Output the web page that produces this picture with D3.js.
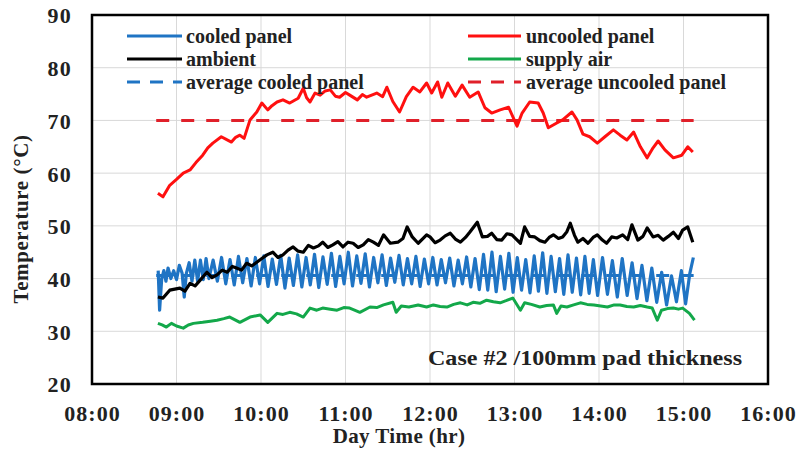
<!DOCTYPE html>
<html><head><meta charset="utf-8">
<script src="https://cdn.jsdelivr.net/npm/d3@7"></script>
<style>
html,body{margin:0;padding:0;background:#fff;}
text{font-family:"Liberation Serif","Times New Roman",serif;font-weight:bold;}
</style></head>
<body><svg id="c" width="796" height="452"></svg>
<script>
// ---- data ----
const xTicks = [8, 9, 10, 11, 12, 13, 14, 15, 16];
const yTicks = [20, 30, 40, 50, 60, 70, 80, 90];

// uncooled panel (time in hours)
const uncooledTime = [8.78,8.84,8.92,9.00,9.08,9.16,9.23,9.31,9.37,9.43,9.53,9.60,9.65,9.70,9.75,9.80,9.87,9.95,10.01,10.08,10.13,10.19,10.26,10.34,10.44,10.50,10.54,10.58,10.64,10.70,10.76,10.82,10.88,10.93,11.00,11.05,11.14,11.20,11.25,11.31,11.37,11.44,11.49,11.56,11.64,11.72,11.80,11.88,11.96,12.02,12.09,12.14,12.21,12.30,12.38,12.47,12.57,12.65,12.73,12.83,12.93,13.03,13.09,13.18,13.28,13.34,13.40,13.50,13.57,13.68,13.74,13.81,13.89,13.98,14.07,14.17,14.25,14.33,14.41,14.49,14.57,14.64,14.70,14.78,14.88,14.98,15.05,15.11];
const uncooledTemp = [56.2,55.5,57.7,58.8,60.0,60.6,62.0,63.4,64.8,65.7,66.9,66.3,65.9,66.8,67.2,66.6,70.1,71.6,73.3,72.0,72.8,73.5,73.9,73.3,74.2,76.1,74.3,73.5,75.2,74.8,75.6,75.8,74.6,74.4,75.3,74.8,73.9,74.9,74.4,74.8,75.2,74.5,76.3,73.6,71.6,74.5,76.3,75.4,77.1,75.2,77.3,74.4,77.1,74.6,76.7,74.4,75.4,72.4,71.4,72.0,72.5,68.9,71.4,73.5,73.3,71.4,68.6,69.5,70.1,71.6,70.1,67.4,66.9,65.7,66.9,68.2,67.2,66.3,67.8,65.0,62.9,64.8,66.1,64.4,62.9,63.4,65.0,64.0];

// ambient (time in hours)
const ambientTime = [8.78,8.84,8.92,9.04,9.10,9.16,9.22,9.28,9.36,9.42,9.48,9.54,9.60,9.66,9.71,9.77,9.83,9.89,9.95,10.01,10.07,10.14,10.20,10.26,10.32,10.38,10.44,10.50,10.56,10.62,10.68,10.73,10.79,10.85,10.91,10.97,11.03,11.09,11.15,11.21,11.27,11.33,11.39,11.45,11.53,11.62,11.68,11.73,11.79,11.86,11.91,11.96,12.00,12.06,12.12,12.18,12.24,12.30,12.36,12.42,12.47,12.56,12.62,12.68,12.73,12.79,12.85,12.91,12.97,13.02,13.07,13.12,13.18,13.24,13.30,13.36,13.41,13.46,13.52,13.57,13.62,13.66,13.71,13.75,13.81,13.87,13.93,13.98,14.04,14.09,14.15,14.21,14.28,14.34,14.39,14.46,14.52,14.57,14.64,14.70,14.76,14.82,14.88,14.94,14.99,15.05,15.11];
const ambientTemp = [36.5,36.3,37.8,38.2,37.6,39.1,38.6,39.7,41.2,40.2,40.7,41.6,41.2,42.3,42.0,41.6,42.9,42.4,43.1,43.8,44.5,45.0,44.0,44.5,45.4,46.0,45.2,45.0,46.3,45.8,46.2,46.9,45.9,46.4,47.0,46.0,46.9,46.7,45.9,46.4,47.4,46.9,46.3,48.3,46.7,46.9,47.6,49.8,47.9,46.7,47.5,48.3,47.9,46.8,47.3,48.1,48.6,47.5,46.9,47.8,48.8,50.7,47.9,48.0,48.6,47.4,47.3,48.5,48.3,47.5,46.7,49.8,48.0,47.9,47.2,46.9,47.8,48.3,47.6,47.9,48.9,50.5,48.2,46.9,47.6,46.7,47.8,48.3,47.3,46.7,47.9,47.7,48.3,47.4,50.2,47.3,48.0,49.6,47.9,48.2,47.3,48.0,48.8,47.6,49.2,49.8,46.9];

// supply air (time in hours)
const supplyTime = [8.78,8.83,8.88,8.94,9.00,9.08,9.14,9.20,9.31,9.40,9.48,9.56,9.63,9.75,9.87,9.99,10.08,10.19,10.26,10.34,10.42,10.50,10.58,10.66,10.73,10.82,10.90,10.98,11.05,11.17,11.29,11.37,11.45,11.56,11.60,11.66,11.75,11.86,11.96,12.04,12.12,12.20,12.28,12.36,12.44,12.51,12.59,12.67,12.75,12.83,12.90,12.98,13.07,13.12,13.20,13.30,13.38,13.46,13.50,13.55,13.62,13.70,13.78,13.86,13.94,14.02,14.10,14.18,14.25,14.33,14.41,14.49,14.57,14.63,14.69,14.74,14.81,14.88,14.94,14.99,15.07,15.13];
const supplyTemp = [31.5,31.2,30.8,31.5,31.0,30.6,31.2,31.5,31.7,31.9,32.1,32.4,32.7,31.7,32.7,33.1,31.7,33.4,33.2,33.6,33.3,32.7,34.4,34.0,34.4,34.2,34.0,34.5,34.4,33.6,34.6,34.5,35.0,35.5,33.6,34.8,34.6,35.0,34.6,35.0,34.7,34.6,35.1,35.4,35.0,35.5,35.3,35.9,35.6,35.4,35.8,36.3,34.0,35.4,35.1,34.6,34.9,35.0,33.4,34.8,34.6,35.0,35.4,35.1,35.0,34.8,34.6,35.0,35.0,34.7,34.6,34.9,34.6,34.4,32.1,34.0,34.3,34.4,34.2,34.4,33.4,32.1];

// cooled panel (time in minutes after 08:00)
const cooledMin = [47,48,49.5,51,52.5,54,56,58,60,62,64,65.5,67,69,71,73,75,77,79,81,
83,86,89,92,95,98,101,104,107,110,113,116,119,122,125,128,131,134,137,140,143,146,149,152,155,158,161,164,167,170,173,176,179,182,185,188,191,194,197,200,203,206,209,212,215,218,221,224,227,230,233,236,239,
242,245,248,251,254,257,260,263,266,269,272,275,278,281,284,287,290,293,296,299,302,305,308,311,314,317,320,323,326,329,332,335,338,341,344,347,350,353,356,359,
362.5,366,369.5,373,376.5,380,383.5,387,390.5,394,397.5,401,404.5,408,411.5,415,418.5,421.5,424.5,427];
const cooledTemp = [41.5,34.0,40.0,41.5,39.5,42.0,40.0,41.5,39.8,42.5,41.0,36.5,41.0,43.0,39.5,43.5,39.5,43.5,39.8,43.8,
40.0,43.5,39.5,44.0,39.0,43.6,38.8,44.2,39.2,43.8,38.6,44.0,39.0,44.3,38.5,43.7,38.9,44.4,38.2,43.9,38.7,44.5,38.4,44.0,38.8,44.6,38.3,44.1,38.9,44.8,38.5,44.2,39.0,45.0,38.6,44.3,39.1,44.7,38.4,44.0,39.2,44.5,38.7,43.9,39.3,44.4,38.8,43.8,39.0,44.2,38.5,43.7,39.0,
44.0,38.8,43.6,39.2,43.9,38.6,43.5,39.0,44.1,38.4,43.8,37.9,44.6,37.8,45.0,37.5,44.2,38.0,44.8,37.4,44.0,37.8,43.6,37.3,44.3,37.6,44.9,37.2,44.2,37.5,43.8,37.0,44.5,37.4,43.9,36.9,44.2,37.2,43.6,36.8,
44.0,37.0,43.4,36.5,43.8,36.8,43.0,36.2,42.5,35.8,42.0,35.5,41.2,35.0,40.5,35.6,41.5,35.2,41.0,44.0];

// averages
const avgTime = [8.76, 15.12];
const avgCooled = 40.6;
const avgUncooled = 70.0;

const legendLabels = ["cooled panel","uncooled panel","ambient","supply air","average cooled panel","average uncooled panel"];
const colors = {blue:"#1f74c4", red:"#ff1010", black:"#000000", green:"#13a84a"};

// ---- layout ----
const L = 92, T = 15, R = 768, B = 384;
const svg = d3.select("#c");
const x = d3.scaleLinear().domain([8, 16]).range([L, R]);
const y = d3.scaleLinear().domain([20, 90]).range([B, T]);

// grid
const g = svg.append("g");
g.selectAll(".vg").data(xTicks.slice(1, -1)).join("line")
  .attr("x1", d => x(d)).attr("x2", d => x(d)).attr("y1", T).attr("y2", B)
  .attr("stroke", "#d9d9d9").attr("stroke-width", 1);
g.selectAll(".hg").data(yTicks.slice(1, -1)).join("line")
  .attr("x1", L).attr("x2", R).attr("y1", d => y(d)).attr("y2", d => y(d))
  .attr("stroke", "#d9d9d9").attr("stroke-width", 1);

// axes
const yAxis = svg.append("g").attr("transform", `translate(${L},0)`)
  .call(d3.axisLeft(y).tickValues(yTicks).tickSize(0).tickPadding(20).tickFormat(d3.format("d")));
yAxis.select(".domain").remove();
yAxis.selectAll("text").attr("font-size", 22).attr("fill", "#222").attr("dy", "0.36em")
  .attr("letter-spacing", 1.2)
  .style("font-family", '"Liberation Serif",serif').style("font-weight", "bold");

const xAxis = svg.append("g").attr("transform", `translate(0,${B})`)
  .call(d3.axisBottom(x).tickValues(xTicks).tickSize(0)
    .tickFormat(d => String(d).padStart(2, "0") + ":00"));
xAxis.select(".domain").remove();
xAxis.selectAll("text").attr("font-size", 22).attr("fill", "#222").attr("y", 37).attr("dy", 0)
  .attr("letter-spacing", 1)
  .style("font-family", '"Liberation Serif",serif').style("font-weight", "bold");

// titles
svg.append("text").attr("x", 399).attr("y", 443).attr("text-anchor", "middle")
  .attr("font-size", 21).attr("letter-spacing", 0.4).attr("fill", "#222").text("Day Time (hr)");
svg.append("text").attr("transform", "translate(28,219) rotate(-90)").attr("text-anchor", "middle")
  .attr("font-size", 21).attr("letter-spacing", 0.6).attr("fill", "#222").text("Temperature (°C)");

// series
const lineH = d3.line().x(d => x(d[0])).y(d => y(d[1]));
const zip = (a, b) => a.map((t, i) => [t, b[i]]);
const plot = svg.append("g");

plot.append("path").datum(avgTime.map(t => [t, avgCooled])).attr("d", lineH)
  .attr("fill", "none").attr("stroke", colors.blue).attr("stroke-width", 3).attr("stroke-dasharray", "13,12");
plot.append("path").datum(zip(cooledMin.map(m => 8 + m / 60), cooledTemp)).attr("d", lineH)
  .attr("fill", "none").attr("stroke", colors.blue).attr("stroke-width", 3.2).attr("stroke-linejoin", "round");
plot.append("path").datum(zip(supplyTime, supplyTemp)).attr("d", lineH)
  .attr("fill", "none").attr("stroke", colors.green).attr("stroke-width", 3).attr("stroke-linejoin", "round");
plot.append("path").datum(zip(ambientTime, ambientTemp)).attr("d", lineH)
  .attr("fill", "none").attr("stroke", colors.black).attr("stroke-width", 3.2).attr("stroke-linejoin", "round");
plot.append("path").datum(avgTime.map(t => [t, avgUncooled])).attr("d", lineH)
  .attr("fill", "none").attr("stroke", "#e0202a").attr("stroke-width", 3).attr("stroke-dasharray", "13,12");
plot.append("path").datum(zip(uncooledTime, uncooledTemp)).attr("d", lineH)
  .attr("fill", "none").attr("stroke", colors.red).attr("stroke-width", 3).attr("stroke-linejoin", "round");

// frame
svg.append("rect").attr("x", L).attr("y", T).attr("width", R - L).attr("height", B - T)
  .attr("fill", "none").attr("stroke", "#000").attr("stroke-width", 2.5);

// legend
const legItems = [
  {label: legendLabels[0], color: colors.blue, dash: null, col: 0, row: 0},
  {label: legendLabels[1], color: colors.red, dash: null, col: 1, row: 0},
  {label: legendLabels[2], color: colors.black, dash: null, col: 0, row: 1},
  {label: legendLabels[3], color: colors.green, dash: null, col: 1, row: 1},
  {label: legendLabels[4], color: colors.blue, dash: "13,10", col: 0, row: 2},
  {label: legendLabels[5], color: "#e0202a", dash: "13,10", col: 1, row: 2}
];
const colX = [[127, 182, 186], [468, 521, 526]];
const rowY = [36, 59, 82];
const leg = svg.append("g");
legItems.forEach(it => {
  const [x1, x2, tx] = colX[it.col];
  const yy = rowY[it.row];
  leg.append("line").attr("x1", x1).attr("x2", x2).attr("y1", yy).attr("y2", yy)
    .attr("stroke", it.color).attr("stroke-width", 3).attr("stroke-dasharray", it.dash);
  leg.append("text").attr("x", tx).attr("y", yy + 7).attr("font-size", 20).attr("fill", "#222").text(it.label);
});

// annotation
svg.append("text").attr("x", 428).attr("y", 365).attr("font-size", 22).attr("fill", "#222")
  .attr("textLength", 314).attr("lengthAdjust", "spacingAndGlyphs")
  .text("Case #2 /100mm pad thickness");
</script></body></html>
